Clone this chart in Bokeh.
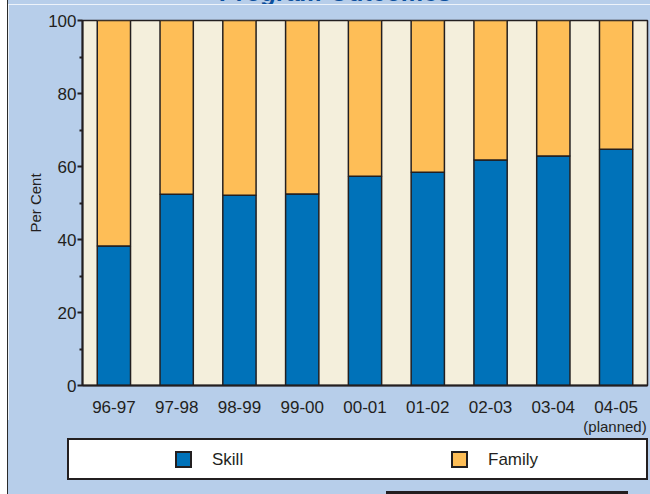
from bokeh.plotting import figure
from bokeh.models import FactorRange, Range1d, FixedTicker, Spacer, Div
from bokeh.layouts import row, column
from bokeh.embed import file_html
from bokeh.resources import INLINE

# Program outcomes by fiscal year, per cent of admissions
years = ["96-97", "97-98", "98-99", "99-00", "00-01", "01-02", "02-03", "03-04", "04-05"]
skill = [38.2, 52.4, 52.1, 52.5, 57.3, 58.4, 61.8, 62.9, 64.7]
family = [61.8, 47.6, 47.9, 47.5, 42.7, 41.6, 38.2, 37.1, 35.3]
series = ["Skill", "Family"]
y_ticks = [0, 20, 40, 60, 80, 100]
title = "Program Outcomes"
year_note = "(planned)"

SKILL_BLUE = "#0072b9"
FAMILY_GOLD = "#febe57"
PAGE_BLUE = "#b7ceea"
CREAM = "#f4efdc"
INK = "#231f20"
TITLE_BLUE = "#0b4f9c"
FONT = "Liberation Sans"
W = 642

data = {"year": years, "Skill": skill, "Family": family}
flat = {"font-size": "0px", "line-height": "0px"}
boxed = "box-sizing:border-box;"

# heading strip: the heading runs off the top edge of the page
heading = Div(width=W, height=4, margin=0, styles=flat, text=(
    f'<div style="position:relative;width:{W}px;height:4px;overflow:hidden;'
    f'background:{PAGE_BLUE};">'
    f'<span style="position:absolute;left:328px;top:-20px;transform:translateX(-50%);'
    f'white-space:nowrap;font-family:\'{FONT}\';font-size:25px;line-height:25px;'
    f'font-weight:bold;font-style:italic;color:{TITLE_BLUE};">{title}</span></div>'))

p = figure(
    width=W, height=416,
    x_range=FactorRange(*years, range_padding=0),
    y_range=Range1d(0, 100),
    output_backend="svg", toolbar_location=None,
    min_border_left=74, min_border_right=3,
    min_border_top=16, min_border_bottom=35,
)
p.background_fill_color = CREAM
p.border_fill_color = PAGE_BLUE
p.outline_line_color = INK
p.outline_line_width = 1.5
p.xgrid.visible = False
p.ygrid.visible = False

p.vbar_stack(series, x="year", width=0.53, source=data,
             fill_color=[SKILL_BLUE, FAMILY_GOLD],
             line_color=INK, line_width=1.5)

# y axis
p.yaxis.ticker = FixedTicker(ticks=y_ticks, minor_ticks=[10, 30, 50, 70, 90])
p.yaxis.axis_label = "Per Cent"
p.yaxis.axis_label_text_font = FONT
p.yaxis.axis_label_text_font_style = "normal"
p.yaxis.axis_label_text_font_size = "15px"
p.yaxis.axis_label_text_color = INK
p.yaxis.axis_label_standoff = 1
p.yaxis.major_label_text_font = FONT
p.yaxis.major_label_text_font_size = "17px"
p.yaxis.major_label_text_color = INK
p.yaxis.major_label_standoff = 1
p.yaxis.major_tick_out = 5
p.yaxis.major_tick_in = 0
p.yaxis.minor_tick_out = 3
p.yaxis.minor_tick_in = 0
p.yaxis.axis_line_color = INK
p.yaxis.axis_line_width = 2
p.yaxis.major_tick_line_color = INK
p.yaxis.major_tick_line_width = 2
p.yaxis.minor_tick_line_color = INK
p.yaxis.minor_tick_line_width = 2

# x axis
p.xaxis.major_label_text_font = FONT
p.xaxis.major_label_text_font_size = "17px"
p.xaxis.major_label_text_color = INK
p.xaxis.major_label_standoff = 15
p.xaxis.major_tick_out = 0
p.xaxis.major_tick_in = 0
p.xaxis.axis_line_color = INK
p.xaxis.axis_line_width = 2

# key strip: year note, boxed series key and the rule along the bottom edge
swatch_x = [167, 443]
parts = [
    f'<div style="position:relative;width:{W}px;height:74px;background:{PAGE_BLUE};'
    f'font-family:\'{FONT}\';color:{INK};">',
    f'<span style="position:absolute;left:607px;top:0px;transform:translateX(-50%);'
    f'white-space:nowrap;font-size:15px;line-height:13px;">{year_note}</span>',
    f'<div style="{boxed}position:absolute;left:59px;top:18px;width:581px;height:42px;'
    f'background:white;border:2px solid {INK};"></div>',
]
for name, colour, x0 in zip(series, [SKILL_BLUE, FAMILY_GOLD], swatch_x):
    parts.append(
        f'<div style="{boxed}position:absolute;left:{x0}px;top:31px;width:17px;height:17px;'
        f'background:{colour};border:2px solid {INK};"></div>')
    parts.append(
        f'<span style="position:absolute;left:{x0 + 37}px;top:31px;font-size:17px;'
        f'line-height:17px;white-space:nowrap;">{name}</span>')
parts.append(f'<div style="position:absolute;left:378px;top:71px;width:242px;height:3px;'
             f'background:{INK};"></div>')
parts.append('</div>')
key = Div(width=W, height=74, margin=0, styles=flat, text="".join(parts))

edge = Spacer(width=1, height=494, margin=0, styles={"background-color": "#2b2b2b"})
layout = row(Spacer(width=7, height=494, margin=0), edge, column(heading, p, key))

open("out.html", "w").write(file_html(layout, INLINE))
